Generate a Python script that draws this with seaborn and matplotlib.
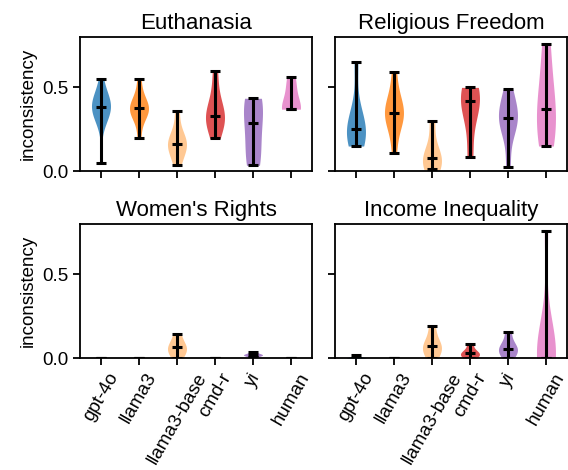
import seaborn as sns
import pandas as pd
import numpy as np
import matplotlib.pyplot as plt

sns.set_style('ticks', {'axes.edgecolor': 'black', 'text.color': 'black',
                        'axes.labelcolor': 'black', 'xtick.color': 'black',
                        'ytick.color': 'black'})
plt.rcParams['font.family'] = ['Liberation Sans', 'DejaVu Sans']
plt.rcParams['font.size'] = 13.5

models = ['gpt-4o', 'llama3', 'llama3-base', 'cmd-r', 'yi', 'human']
colors = ['#1f77b4', '#ff7f0e', '#ffbb78', '#d62728', '#9467bd', '#e377c2']
topics = ['Euthanasia', 'Religious Freedom', "Women's Rights", 'Income Inequality']

# inconsistency scores per model
euthanasia = [
    [0.05, 0.30, 0.33, 0.36, 0.38, 0.38, 0.40, 0.41, 0.43, 0.45, 0.55],
    [0.20, 0.32, 0.35, 0.37, 0.375, 0.38, 0.40, 0.45, 0.55],
    [0.035, 0.12, 0.15, 0.16, 0.18, 0.22, 0.36],
    [0.196, 0.29, 0.31, 0.33, 0.35, 0.45, 0.60],
    [0.035, 0.12, 0.29, 0.40, 0.435],
    [0.37, 0.37, 0.37, 0.48, 0.565],
]
religious_freedom = [
    [0.15, 0.19, 0.22, 0.25, 0.27, 0.35, 0.65],
    [0.107, 0.30, 0.33, 0.345, 0.36, 0.42, 0.59],
    [0.01, 0.05, 0.08, 0.10, 0.30],
    [0.085, 0.35, 0.42, 0.46, 0.50],
    [0.025, 0.25, 0.29, 0.315, 0.35, 0.40, 0.49],
    [0.15, 0.25, 0.37, 0.50, 0.76],
]
womens_rights = [
    [0.0, 0.0, 0.0, 0.0, 0.0],
    [0.0, 0.0, 0.0, 0.0, 0.0],
    [0.0, 0.04, 0.064, 0.08, 0.145],
    [0.0, 0.0, 0.0, 0.0, 0.0],
    [0.006, 0.02, 0.02, 0.02, 0.037],
    [0.0, 0.0, 0.0, 0.0, 0.0],
]
income_inequality = [
    [0.0, 0.0, 0.0, 0.018],
    [0.0, 0.0, 0.0, 0.0, 0.0],
    [0.0, 0.05, 0.07, 0.09, 0.19],
    [0.0, 0.02, 0.028, 0.035, 0.085],
    [0.0, 0.045, 0.055, 0.07, 0.157],
    [0.0, 0.0, 0.0, 0.0, 0.05, 0.15, 0.756],
]


def to_long(groups):
    rows = []
    for m, vals in zip(models, groups):
        for v in vals:
            rows.append({'model': m, 'value': v})
    return pd.DataFrame(rows)


fig, axes = plt.subplots(2, 2, figsize=(5.68, 4.70), dpi=100, sharex=True, sharey=True)
fig.subplots_adjust(left=0.141, right=0.998, top=0.921, bottom=0.238, wspace=0.1, hspace=0.395)

for ax, topic, groups in zip(axes.flat, topics,
                             [euthanasia, religious_freedom, womens_rights, income_inequality]):
    df = to_long(groups)
    # zero-variance groups have no kde, keep only the spread ones for the bodies
    spread = df.groupby('model')['value'].transform('nunique') > 1
    sns.violinplot(data=df[spread], x='model', y='value', hue='model', order=models,
                   hue_order=models, palette=colors, inner=None, cut=0,
                   density_norm='width', width=0.5, linewidth=0, saturation=1,
                   legend=False, ax=ax)
    for c in ax.collections:
        c.set_alpha(0.8)
    for i, vals in enumerate(groups):
        lo, hi, med = np.min(vals), np.max(vals), np.median(vals)
        ax.vlines(i, lo, hi, color='k', lw=2.2)
        ax.hlines([lo, hi, med], i - 0.125, i + 0.125, color='k', lw=2.2)
    ax.set_title(topic, fontsize=16)
    ax.set_xlabel('')
    ax.set_ylabel('')

for ax in axes[:, 0]:
    ax.set_ylabel('inconsistency')
axes[0, 0].set_ylim(0, 0.8)
axes[0, 0].set_yticks([0.0, 0.5])
axes[0, 0].set_xlim(-0.55, 5.55)
for ax in axes[1]:
    ax.set_xticks(range(len(models)))
    ax.set_xticklabels(models, rotation=60)
for ax in axes.flat:
    ax.tick_params(length=5, width=1.3)
    for s in ax.spines.values():
        s.set_linewidth(1.3)

fig.savefig('out.png', dpi=100)
